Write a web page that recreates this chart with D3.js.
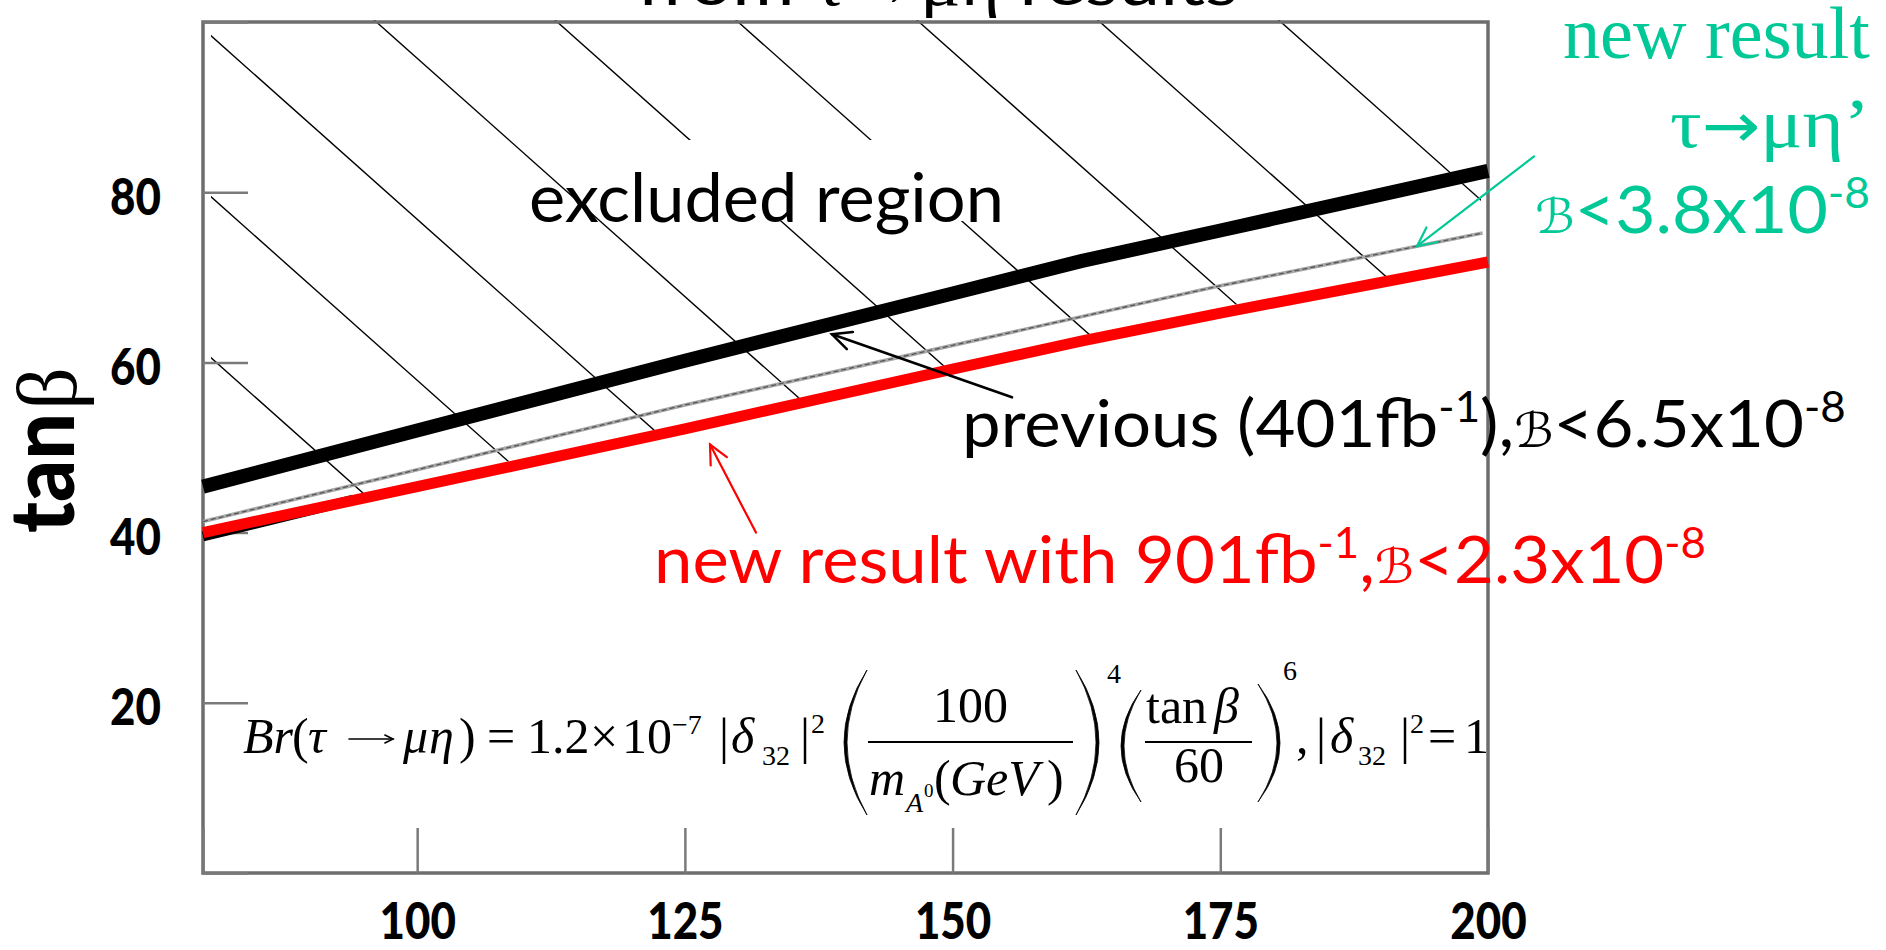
<!DOCTYPE html>
<html>
<head>
<meta charset="utf-8">
<script src="https://cdn.jsdelivr.net/npm/d3@7"></script>
<style>
  html, body { margin: 0; padding: 0; background: #fff; overflow: hidden; }
  svg { display: block; }
</style>
</head>
<body>
<svg id="chart" width="1886" height="950"></svg>
<script>
// ---- data: tan(beta) upper limits versus m_A0 (GeV) ----
const massGeV       = [80, 100, 125, 150, 162, 175, 200];
const tanbPrevious  = [45.4, 52.0, 60.2, 68.1, 71.9, 75.5, 82.5];   // previous, 401 fb^-1
const tanbNewEta    = [40.0, 45.4, 52.2, 59.2, 62.5, 65.8, 71.8];   // new tau->mu eta, 901 fb^-1
const massEtaPrime  = [80, 100, 125, 150, 175, 199.5];
const tanbEtaPrime  = [41.3, 47.4, 55.0, 62.0, 69.0, 75.2];         // new tau->mu eta'
const massUnderEdge = [80, 94];
const tanbUnderEdge = [39.55, 43.85];                                // dark edge under the red curve
const xTickValues   = [80, 100, 125, 150, 175, 200];
const yTickValues   = [0, 20, 40, 60, 80, 100];
const xTickLabels   = ["", "100", "125", "150", "175", "200"];
const yTickLabels   = ["", "20", "40", "60", "80", ""];

const RED = "#ff0000", GREEN = "#00c896";
const SANS = "Lato, 'Open Sans', sans-serif";
const SERIF = "'Liberation Serif', 'DejaVu Serif', serif";
const SCRIPT = "'DejaVu Serif', 'DejaVu Sans', serif";

const svg = d3.select("#chart");
const x = d3.scaleLinear().domain([80, 200]).range([203, 1488]);
const y = d3.scaleLinear().domain([0, 100]).range([873, 22]);
const zip = (xs, ys) => xs.map((m, i) => [m, ys[i]]);
const line = d3.line().x(d => x(d[0])).y(d => y(d[1]));

// ---- hatched excluded region (above the red curve) ----
const defs = svg.append("defs");
defs.append("clipPath").attr("id", "hatchBox")
  .append("rect").attr("x", x(80) + 8).attr("y", y(100) - 2)
  .attr("width", x(200) - x(80) - 15).attr("height", y(0) - y(100));
defs.append("clipPath").attr("id", "hatchArea")
  .append("path")
  .attr("d", d3.area().x(d => x(d[0])).y0(y(100) - 4).y1(d => y(d[1]) - 5.5)(zip(massGeV, tanbNewEta)));

const hatchOuter = svg.append("g").attr("clip-path", "url(#hatchBox)");
const hatch = hatchOuter.append("g").attr("clip-path", "url(#hatchArea)");
const hatchSlope = 0.89, hatchStep = 161, hatchPhase = -474;
d3.range(-4, 5).forEach(k => {
  const c = hatchPhase - hatchStep * k;
  hatch.append("line")
    .attr("x1", 0).attr("y1", c)
    .attr("x2", 1886).attr("y2", hatchSlope * 1886 + c)
    .attr("stroke", "#000").attr("stroke-width", 1.4);
});

// ---- "excluded region" label backing ----
const exclBaseline = 222, exclLeft = 529;
svg.append("rect").attr("x", exclLeft + 111).attr("y", exclBaseline - 82)
  .attr("width", 370).attr("height", 81).attr("fill", "#fff");

// ---- frame and axes ----
svg.append("rect")
  .attr("x", x(80)).attr("y", y(100))
  .attr("width", x(200) - x(80)).attr("height", y(0) - y(100))
  .attr("fill", "none").attr("stroke", "#6e6e6e").attr("stroke-width", 3.5);

const xAxis = svg.append("g").attr("transform", `translate(0,${y(0)})`)
  .call(d3.axisBottom(x).tickValues(xTickValues).tickSize(-45).tickSizeOuter(0)
    .tickFormat((d, i) => xTickLabels[i]));
const yAxis = svg.append("g").attr("transform", `translate(${x(80)},0)`)
  .call(d3.axisLeft(y).tickValues(yTickValues).tickSize(-45).tickSizeOuter(0)
    .tickFormat((d, i) => yTickLabels[i]));
[xAxis, yAxis].forEach(a => {
  a.select(".domain").remove();
  a.selectAll(".tick line").attr("stroke", "#7a7a7a").attr("stroke-width", 2.5);
  a.selectAll(".tick text")
    .attr("font-family", SANS).attr("font-weight", 900).attr("font-size", 51)
    .attr("fill", "#000");
});
xAxis.selectAll(".tick text").attr("y", 66).attr("dy", 0);
yAxis.selectAll(".tick text").attr("x", -42).attr("y", 22).attr("dy", 0);
[xAxis, yAxis].forEach(a => a.selectAll(".tick text").each(function () {
  const n = this.getComputedTextLength();
  if (n > 0) d3.select(this).attr("textLength", n * 0.86).attr("lengthAdjust", "spacingAndGlyphs");
}));

// axis title: tan(beta)
svg.append("text")
  .attr("transform", "translate(74,533) rotate(-90)")
  .attr("font-family", SANS).attr("font-weight", 900).attr("font-size", 90)
  .attr("textLength", 120).attr("lengthAdjust", "spacingAndGlyphs")
  .text("tan");
svg.append("text")
  .attr("transform", "translate(76,410) rotate(-90)")
  .attr("font-family", SERIF).attr("font-size", 84)
  .text("β");

// ---- limit curves ----
svg.append("path").attr("d", line(zip(massEtaPrime, tanbEtaPrime)))
  .attr("fill", "none").attr("stroke", "#a8a8a8").attr("stroke-width", 3.6);
svg.append("path").attr("d", line(zip(massEtaPrime, tanbEtaPrime)))
  .attr("fill", "none").attr("stroke", "#555").attr("stroke-width", 1.3)
  .attr("stroke-dasharray", "5 3");
svg.append("path").attr("d", line(zip(massUnderEdge, tanbUnderEdge)))
  .attr("fill", "none").attr("stroke", "#000").attr("stroke-width", 10);
svg.append("path").attr("d", line(zip(massGeV, tanbNewEta)))
  .attr("fill", "none").attr("stroke", RED).attr("stroke-width", 11);
svg.append("path").attr("d", line(zip(massGeV, tanbPrevious)))
  .attr("fill", "none").attr("stroke", "#000").attr("stroke-width", 14);

// ---- arrows ----
function arrowPx(x1, y1, x2, y2, color, width, L, g) {
  const ang = Math.atan2(y1 - y2, x1 - x2), a = 0.45;
  const grp = (g || svg).append("g").attr("stroke", color).attr("stroke-width", width)
    .attr("fill", "none").attr("stroke-linecap", "round");
  grp.append("line").attr("x1", x1).attr("y1", y1).attr("x2", x2).attr("y2", y2);
  grp.append("path").attr("d",
    `M${x2 + L * Math.cos(ang + a)},${y2 + L * Math.sin(ang + a)} L${x2},${y2} L${x2 + L * Math.cos(ang - a)},${y2 + L * Math.sin(ang - a)}`);
}
// annotation arrows, anchored in data units
function arrow(from, to, color, width) {
  arrowPx(x(from[0]), y(from[1]), x(to[0]), y(to[1]), color, width, 21);
}
arrow([155.55, 55.9], [138.74, 63.3], "#000", 2.6);
arrow([131.64, 40.0], [127.35, 50.35], RED, 2.2);
arrow([204.3, 84.2], [193.37, 73.65], GREEN, 2.2);

// ---- rich text helper: builds tspans, then fits to a target width ----
function richText(parts, base) {
  const g = svg.append("g");
  const t = g.append("text").attr("x", 0).attr("y", 0)
    .attr("font-family", base.font).attr("font-size", base.size)
    .attr("font-weight", base.weight || 400).attr("fill", base.fill || "#000");
  let shift = 0;
  parts.forEach(p => {
    const s = t.append("tspan").text(p.t);
    if (p.font) s.attr("font-family", p.font);
    if (p.size) s.attr("font-size", p.size);
    if (p.style) s.attr("font-style", p.style);
    const rise = p.rise || 0;
    if (rise !== shift) { s.attr("dy", -(rise - shift)); shift = rise; }
  });
  return { g, t };
}
function place(obj, xPos, yPos, width, anchor) {
  const n = obj.t.node().getComputedTextLength();
  const sx = width ? width / n : 1;
  const x0 = anchor === "end" ? xPos - n * sx : xPos;
  obj.g.attr("transform", `translate(${x0},${yPos}) scale(${sx},1)`);
}

// title line (runs off the top edge)
place(richText([
  { t: "from " }, { t: "τ→μη", font: SERIF }, { t: " results" }
], { font: SANS, size: 62 }), 637, 5, 601);

// excluded region
place(richText([{ t: "excluded region" }], { font: SANS, size: 68 }), exclLeft, exclBaseline, 475);

// previous result
place(richText([
  { t: "previous (401fb" }, { t: "-1", size: 42, rise: 25 }, { t: "),", rise: 0 },
  { t: "ℬ", font: SCRIPT, style: "italic", size: 48 }, { t: "<6.5x10" },
  { t: "-8", size: 42, rise: 25 }
], { font: SANS, size: 66 }), 962, 447, 884);

// new result (red)
place(richText([
  { t: "new result with 901fb" }, { t: "-1", size: 42, rise: 25 }, { t: ",", rise: 0 },
  { t: "ℬ", font: SCRIPT, style: "italic", size: 48 }, { t: "<2.3x10" },
  { t: "-8", size: 42, rise: 25 }
], { font: SANS, size: 66, fill: RED }), 654, 583, 1052);

// new result (green, eta')
place(richText([{ t: "new result" }], { font: SERIF, size: 74, fill: GREEN }), 1870, 58, 307, "end");
place(richText([
  { t: "τ" }, { t: "→", font: "'DejaVu Sans', sans-serif", size: 62 }, { t: "μη’" }
], { font: SERIF, size: 70, fill: GREEN }), 1870, 147, 200, "end");
place(richText([
  { t: "ℬ", font: SCRIPT, style: "italic", size: 48 }, { t: "<3.8x10" },
  { t: "-8", size: 42, rise: 25 }
], { font: SANS, size: 66, fill: GREEN }), 1535, 233, 335);

// ---- branching-ratio formula ----
const fml = svg.append("g").attr("font-family", SERIF).attr("fill", "#000");
const F = 50, S = 28;
const fmlPieces = [
  ["Br", 243, 753, F, true], ["(", 292, 753, F], ["τ", 308, 753, F, true],
  ["μ", 403, 753, F, true], ["η", 429, 753, F, true],
  [")", 459, 753, F], ["=", 487, 753, F], ["1.2", 527, 753, F],
  ["×", 590, 753, F], ["10", 622, 753, F], ["−7", 672, 734, S],
  ["|", 719, 753, F], ["δ", 731, 753, F, true], ["32", 762, 765, S],
  ["|", 800, 753, F], ["2", 811, 733, S],
  ["100", 933, 722, F],
  ["m", 869, 795, F, true], ["A", 906, 812, S, true], ["0", 924, 797, 19],
  ["(", 934, 795, F], ["GeV", 950, 795, F, true], [")", 1047, 795, F],
  ["4", 1107, 683, S],
  ["tan", 1146, 723, F], ["β", 1214, 723, F, true],
  ["60", 1174, 782, F],
  ["6", 1283, 680, S],
  [",", 1296, 753, F], ["|", 1316, 753, F], ["δ", 1330, 753, F, true],
  ["32", 1358, 765, S], ["|", 1400, 753, F], ["2", 1410, 733, S],
  ["=", 1428, 753, F], ["1", 1464, 753, F]
];
fmlPieces.forEach(([t, px, py, fs, it]) => {
  fml.append("text").attr("x", px).attr("y", py).attr("font-size", fs)
    .attr("font-style", it ? "italic" : "normal").text(t);
});
// "tends to" arrow of the formula
arrowPx(349, 739, 393, 739, "#000", 1.6, 9, fml);
// fraction bars
[[868, 1073], [1145, 1252]].forEach(([a, b]) =>
  fml.append("line").attr("x1", a).attr("x2", b).attr("y1", 742).attr("y2", 742)
    .attr("stroke", "#000").attr("stroke-width", 2));
// tall parentheses
function paren(xOuter, xInner, yT, yB, thick) {
  const yM = (yT + yB) / 2;
  const c1 = 2 * xOuter - xInner, c2 = 2 * (xOuter + thick) - xInner;
  fml.append("path")
    .attr("d", `M${xInner},${yT} Q${c1},${yM} ${xInner},${yB} Q${c2},${yM} ${xInner},${yT} Z`)
    .attr("fill", "#000").attr("stroke", "#000").attr("stroke-width", 0.8);
}
paren(844, 867, 670, 815, 3);
paren(1099, 1076, 670, 815, -3);
paren(1121, 1141, 690, 802, 3);
paren(1280, 1258, 684, 802, -3);
</script>
</body>
</html>
